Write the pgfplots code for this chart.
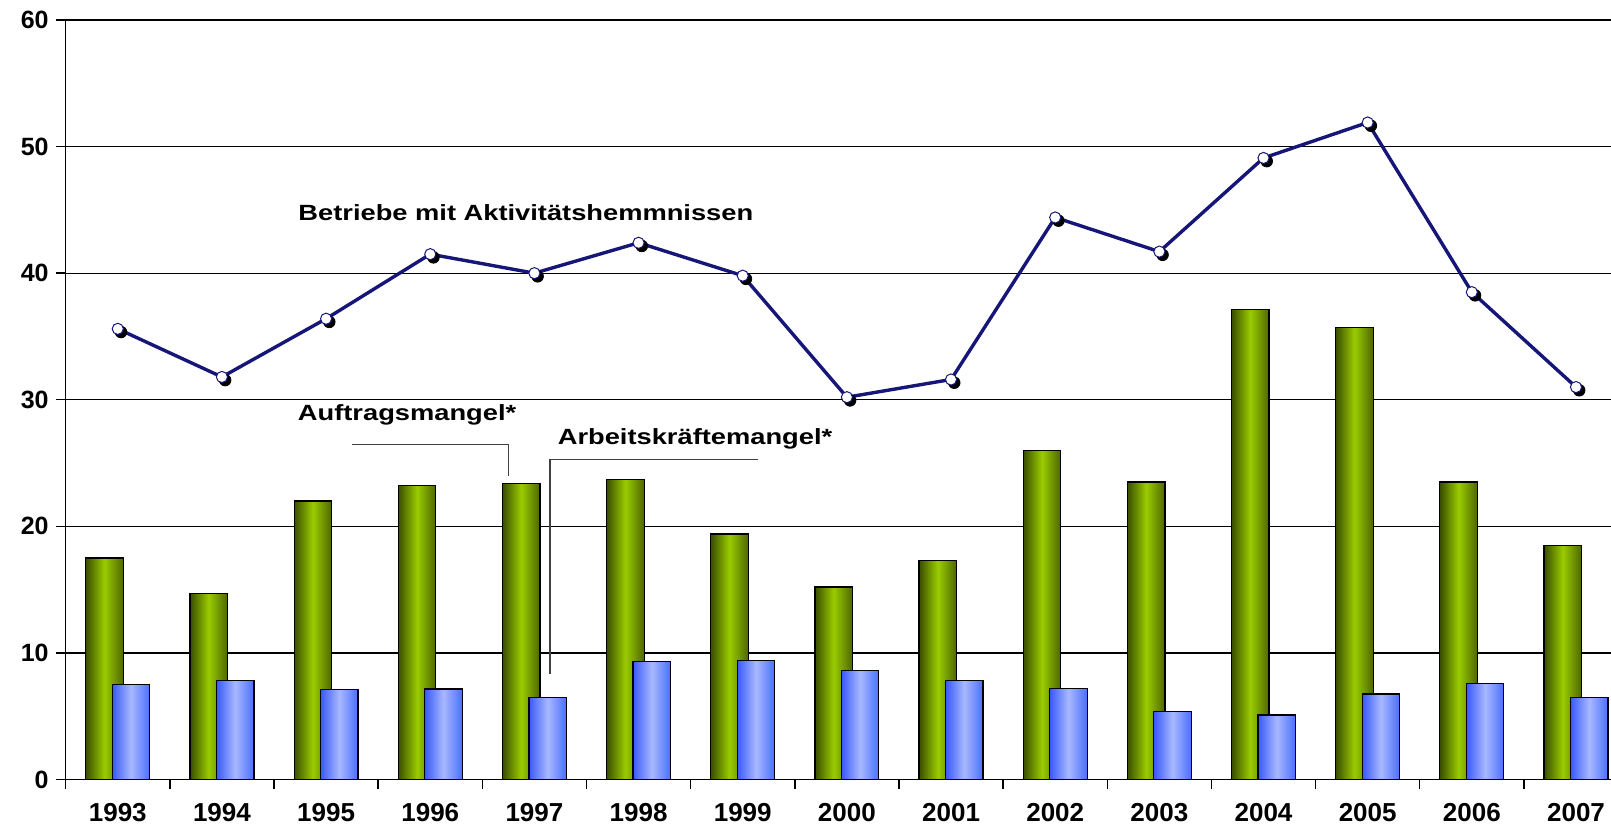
\documentclass[border=0pt]{standalone}
\usepackage{fontspec}
\setmainfont{Liberation Sans}
\usepackage{pgfplots}
\pgfplotsset{compat=1.18}
\definecolor{gdark}{RGB}{58,78,0}
\definecolor{gmid}{RGB}{154,204,0}
\definecolor{gright}{RGB}{78,102,0}
\definecolor{bleft}{RGB}{55,90,250}
\definecolor{bmid}{RGB}{168,184,255}
\definecolor{bright}{RGB}{75,110,255}
\definecolor{navy}{RGB}{22,22,120}
\pgfplotsset{
  gbar/.style={ybar, bar width=0.36, bar shift=-0.127, draw=black, line width=0.6pt,
    left color=gdark, right color=gright, middle color=gmid, forget plot},
  bbar/.style={ybar, bar width=0.36, bar shift=0.127, draw=black, line width=0.6pt,
    left color=bleft, right color=bright, middle color=bmid, forget plot},
}
\begin{document}
\begin{tikzpicture}
\useasboundingbox (-32.85pt,-24.25pt) rectangle (772.65pt,389.75pt);
\begin{axis}[
  scale only axis, width=772.65pt, height=379.75pt,
  at={(0pt,0pt)}, anchor=south west,
  xmin=-0.5, xmax=14.336, ymin=0, ymax=60,
  axis x line*=bottom, axis y line*=left,
  axis line style={black, line width=0.7pt},
  ytick={0,10,...,60},
  ymajorgrids, grid style={black, line width=0.6pt},
  xtick={-0.5,0.5,...,13.5},
  xticklabels={},
  extra x ticks={0,1,...,14},
  extra x tick labels={1993,1994,1995,1996,1997,1998,1999,2000,2001,2002,2003,2004,2005,2006,2007},
  extra x tick style={major tick length=0pt, tick label style={font=\fontsize{13}{13}\selectfont\bfseries, yshift=-8.5pt}},
  tick align=outside, major tick length=5pt,
  tick style={black, line width=0.7pt},
  /pgf/number format/assume math mode=true,
  yticklabel style={font=\fontsize{12.5}{12.5}\selectfont\bfseries},
  clip=false,
]
% Auftragsmangel (green)
\addplot[gbar] coordinates {(0,17.5)};
\addplot[gbar] coordinates {(1,14.7)};
\addplot[gbar] coordinates {(2,22.0)};
\addplot[gbar] coordinates {(3,23.2)};
\addplot[gbar] coordinates {(4,23.4)};
\addplot[gbar] coordinates {(5,23.7)};
\addplot[gbar] coordinates {(6,19.4)};
\addplot[gbar] coordinates {(7,15.2)};
\addplot[gbar] coordinates {(8,17.3)};
\addplot[gbar] coordinates {(9,26.0)};
\addplot[gbar] coordinates {(10,23.5)};
\addplot[gbar] coordinates {(11,37.1)};
\addplot[gbar] coordinates {(12,35.7)};
\addplot[gbar] coordinates {(13,23.5)};
\addplot[gbar] coordinates {(14,18.5)};
% Arbeitskraeftemangel (blue)
\addplot[bbar] coordinates {(0,7.5)};
\addplot[bbar] coordinates {(1,7.8)};
\addplot[bbar] coordinates {(2,7.1)};
\addplot[bbar] coordinates {(3,7.15)};
\addplot[bbar] coordinates {(4,6.5)};
\addplot[bbar] coordinates {(5,9.3)};
\addplot[bbar] coordinates {(6,9.4)};
\addplot[bbar] coordinates {(7,8.6)};
\addplot[bbar] coordinates {(8,7.85)};
\addplot[bbar] coordinates {(9,7.2)};
\addplot[bbar] coordinates {(10,5.4)};
\addplot[bbar] coordinates {(11,5.1)};
\addplot[bbar] coordinates {(12,6.75)};
\addplot[bbar] coordinates {(13,7.6)};
\addplot[bbar] coordinates {(14,6.5)};
% Betriebe mit Aktivitaetshemmnissen
\addplot[navy, line width=1.7pt, mark=none]
  coordinates {(0,35.6) (1,31.8) (2,36.4) (3,41.5) (4,40.0) (5,42.4) (6,39.8) (7,30.2) (8,31.6) (9,44.4) (10,41.7) (11,49.1) (12,51.9) (13,38.5) (14,31.0)};
\addplot[only marks, mark=*, mark size=2.9pt, black, mark options={xshift=1.6pt, yshift=-1.6pt, fill=black}]
  coordinates {(0,35.6) (1,31.8) (2,36.4) (3,41.5) (4,40.0) (5,42.4) (6,39.8) (7,30.2) (8,31.6) (9,44.4) (10,41.7) (11,49.1) (12,51.9) (13,38.5) (14,31.0)};
\addplot[only marks, mark=*, mark size=2.8pt, mark options={draw=navy, fill=white, line width=0.5pt}]
  coordinates {(0,35.6) (1,31.8) (2,36.4) (3,41.5) (4,40.0) (5,42.4) (6,39.8) (7,30.2) (8,31.6) (9,44.4) (10,41.7) (11,49.1) (12,51.9) (13,38.5) (14,31.0)};
% annotations
\node[anchor=base west, inner sep=0pt, xscale=1.24, font=\fontsize{11}{11}\selectfont\bfseries] at (axis cs:1.73,44.14) {Betriebe mit Aktivitätshemmnissen};
\node[anchor=base west, inner sep=0pt, xscale=1.24, font=\fontsize{11}{11}\selectfont\bfseries] at (axis cs:1.725,28.38) {Auftragsmangel*};
\node[anchor=base west, inner sep=0pt, xscale=1.24, font=\fontsize{11}{11}\selectfont\bfseries] at (axis cs:4.22,26.5) {Arbeitskräftemangel*};
\draw[black!75, line width=0.55pt] (axis cs:2.246,26.5) -- (axis cs:3.749,26.5) -- (axis cs:3.749,23.98);
\draw[black!75, line width=0.55pt] (axis cs:6.144,25.3) -- (axis cs:4.15,25.3) -- (axis cs:4.15,8.33);
\end{axis}
\end{tikzpicture}
\end{document}
